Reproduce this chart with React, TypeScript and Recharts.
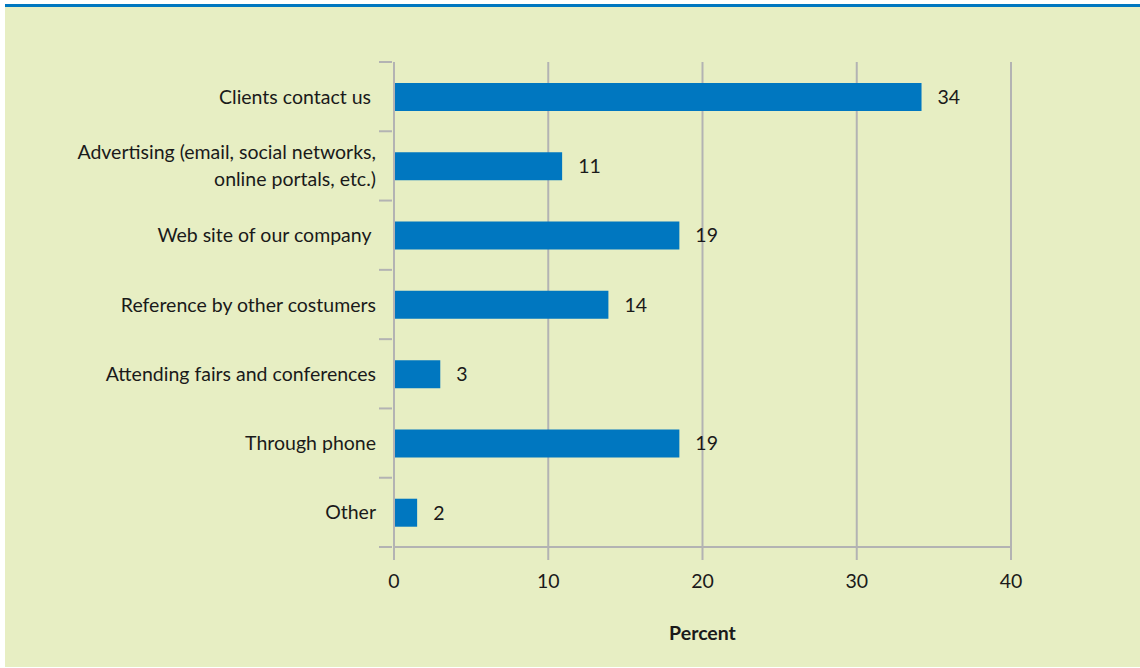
import React from 'react';
import { BarChart, Bar, XAxis, YAxis, CartesianGrid, LabelList } from 'recharts';

// survey categories, top to bottom
const categories = [
    'Clients contact us ',
    'Advertising (email, social networks,\nonline portals, etc.)',
    'Web site of our company ',
    'Reference by other costumers',
    'Attending fairs and conferences',
    'Through phone',
    'Other',
];
// bar lengths (percent)
const values = [34.2, 10.9, 18.5, 13.9, 3.0, 18.5, 1.5];
// printed data labels (rounded)
const valueLabels = ['34', '11', '19', '14', '3', '19', '2'];
const xTicks = [0, 10, 20, 30, 40];

const chartData = categories.map((name, i) => ({
    name,
    value: values[i],
    label: valueLabels[i],
}));

const FONT = 'Lato, "Open Sans", sans-serif';
const FS = 19.5;
const GRID = '#b3b3b3';
const PLOT_H = 485;
const BAND = PLOT_H / categories.length;

const CategoryTick = (props: any) => {
    const { x, y, payload, index } = props;
    const lines = String(payload.value).split('\n');
    const lineH = 27;
    const startY = y - 1 - ((lines.length - 1) * lineH) / 2;
    return (
        <g>
            <line x1={x - 13} x2={x} y1={y - BAND / 2} y2={y - BAND / 2} stroke={GRID} strokeWidth={2} />
            {index === categories.length - 1 && (
                <line x1={x - 13} x2={x} y1={y + BAND / 2} y2={y + BAND / 2} stroke={GRID} strokeWidth={2} />
            )}
            <text
                x={x - 16}
                y={startY}
                textAnchor="end"
                dominantBaseline="central"
                fontSize={FS}
                fontFamily={FONT}
                fill="#1a1a1a"
                xmlSpace="preserve"
            >
                {lines.map((l, i) => (
                    <tspan key={i} x={x - 16} y={startY + i * lineH}>{l}</tspan>
                ))}
            </text>
        </g>
    );
};

const App: React.FC = () => {
    return (
        <div style={{ position: 'fixed', left: 0, top: 0, width: 1140, height: 668, background: '#fff' }}>
            <div style={{ position: 'absolute', left: 5, top: 4, width: 1135, height: 3, background: '#0077c0' }} />
            <div style={{ position: 'absolute', left: 5, top: 7, width: 1135, height: 660, background: '#e7eec3' }}>
                <BarChart
                    width={1135}
                    height={660}
                    data={chartData}
                    layout="vertical"
                    margin={{ top: 55, right: 129, bottom: 20, left: 0 }}
                    barSize={28}
                >
                    <CartesianGrid vertical horizontal={false} stroke={GRID} strokeWidth={2} />
                    <XAxis
                        type="number"
                        domain={[0, 40]}
                        ticks={xTicks}
                        height={100}
                        stroke={GRID}
                        strokeWidth={2}
                        tickSize={13}
                        tickMargin={14}
                        tick={{ fill: '#1a1a1a', fontSize: FS, fontFamily: FONT }}
                        label={{
                            value: 'Percent',
                            position: 'insideBottom',
                            offset: 7,
                            style: { fill: '#1a1a1a', fontSize: FS, fontWeight: 700, fontFamily: FONT },
                        }}
                    />
                    <YAxis
                        type="category"
                        dataKey="name"
                        width={389}
                        stroke={GRID}
                        strokeWidth={2}
                        tickLine={false}
                        tickSize={0}
                        tick={<CategoryTick />}
                        interval={0}
                    />
                    <Bar dataKey="value" fill="#0077c0" isAnimationActive={false}>
                        <LabelList
                            dataKey="label"
                            position="right"
                            offset={16}
                            style={{ fill: '#1a1a1a', fontSize: FS, fontFamily: FONT }}
                        />
                    </Bar>
                </BarChart>
            </div>
        </div>
    );
};

export default App;
